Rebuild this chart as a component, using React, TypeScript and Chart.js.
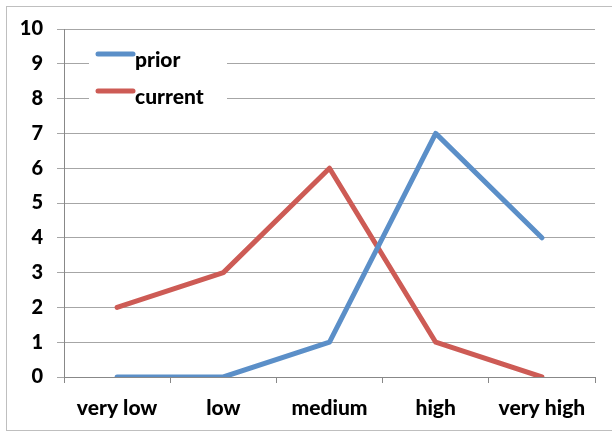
import React, { useEffect, useRef } from "react";
import { Chart, registerables } from "chart.js";

Chart.register(...registerables);

const categories = ["very low", "low", "medium", "high", "very high"];
const priorValues = [0, 0, 1, 7, 4];
const currentValues = [2, 3, 6, 1, 0];
const seriesNames = ["prior", "current"];
const seriesColors = ["#5B8FC8", "#CD5B55"];

const FONT = "Lato, 'Open Sans', sans-serif";
const WEIGHT = "900";

const frameAndLegend = {
  id: "frameAndLegend",
  afterDraw(chart: any) {
    const ctx = chart.ctx;
    ctx.save();
    ctx.strokeStyle = "#BFBFBF";
    ctx.lineWidth = 1;
    ctx.strokeRect(6.5, 6.5, 620, 424);
    const area = chart.chartArea;
    const x0 = area.left + 25;
    const y0 = area.top + 13;
    ctx.fillStyle = "#FFFFFF";
    ctx.fillRect(x0, y0, 138, 80);
    chart.data.datasets.forEach((ds: any, i: number) => {
      const ly = y0 + 12 + i * 37;
      ctx.strokeStyle = ds.borderColor;
      ctx.lineWidth = 5;
      ctx.lineCap = "round";
      ctx.beginPath();
      ctx.moveTo(x0 + 9, ly);
      ctx.lineTo(x0 + 44, ly);
      ctx.stroke();
      ctx.fillStyle = "#000000";
      ctx.font = WEIGHT + " 21px " + FONT;
      ctx.textBaseline = "middle";
      ctx.textAlign = "left";
      ctx.fillText(ds.label, x0 + 46, ly + 6);
    });
    ctx.restore();
  },
};

export default function App() {
  const ref = useRef<HTMLCanvasElement>(null);
  useEffect(() => {
    document.body.style.margin = "0";
    const chart = new Chart(ref.current!, {
      type: "line",
      data: {
        labels: categories,
        datasets: [
          {
            label: seriesNames[0],
            data: priorValues,
            borderColor: seriesColors[0],
            backgroundColor: seriesColors[0],
            borderWidth: 5,
            pointRadius: 0,
            borderCapStyle: "round",
            borderJoinStyle: "round",
            tension: 0,
          },
          {
            label: seriesNames[1],
            data: currentValues,
            borderColor: seriesColors[1],
            backgroundColor: seriesColors[1],
            borderWidth: 5,
            pointRadius: 0,
            borderCapStyle: "round",
            borderJoinStyle: "round",
            tension: 0,
          },
        ],
      },
      options: {
        animation: false,
        responsive: false,
        layout: { padding: { top: 29, right: 17, left: 0, bottom: 0 } },
        plugins: { legend: { display: false }, tooltip: { enabled: false } },
        scales: {
          x: {
            offset: true,
            grid: {
              offset: true,
              drawOnChartArea: false,
              tickLength: 6,
              tickColor: "#888888",
            },
            border: { color: "#888888", width: 1 },
            ticks: {
              color: "#000000",
              font: { family: FONT, size: 21, weight: WEIGHT },
              padding: 13,
              maxRotation: 0,
            },
            afterFit(scale: any) {
              scale.height = 55;
            },
          },
          y: {
            min: 0,
            max: 10,
            ticks: {
              stepSize: 1,
              color: "#000000",
              font: { family: FONT, size: 20, weight: WEIGHT },
              padding: 14,
            },
            grid: {
              color: "#A6A6A6",
              tickLength: 7,
              tickColor: "#A6A6A6",
            },
            border: { color: "#888888", width: 1 },
            afterFit(scale: any) {
              scale.width = 64;
            },
          },
        },
      },
      plugins: [frameAndLegend],
    });
    return () => chart.destroy();
  }, []);
  return <canvas ref={ref} width={612} height={432} style={{ display: "block" }} />;
}
